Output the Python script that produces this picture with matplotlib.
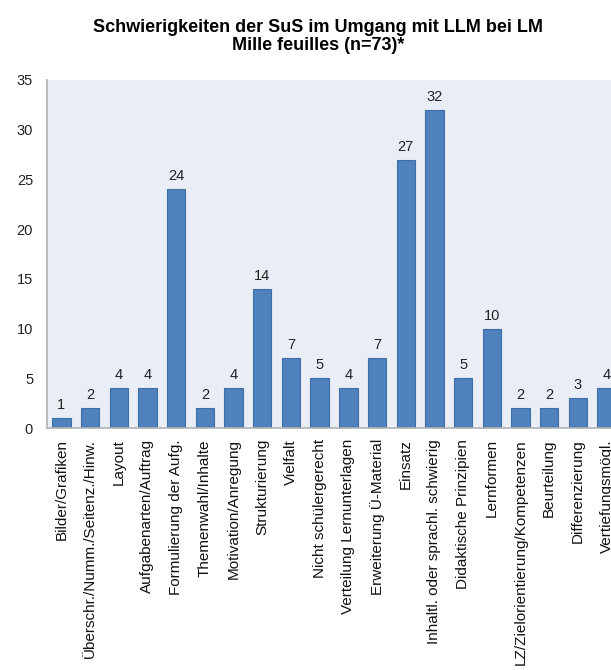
import matplotlib
matplotlib.use("Agg")
import matplotlib.pyplot as plt

# Data
categories = [
    "Bilder/Grafiken",
    "Überschr./Numm./Seitenz./Hinw.",
    "Layout",
    "Aufgabenarten/Auftrag",
    "Formulierung der Aufg.",
    "Themenwahl/Inhalte",
    "Motivation/Anregung",
    "Strukturierung",
    "Vielfalt",
    "Nicht schülergerecht",
    "Verteilung Lernunterlagen",
    "Erweiterung Ü-Material",
    "Einsatz",
    "Inhaltl. oder sprachl. schwierig",
    "Didaktische Prinzipien",
    "Lernformen",
    "LZ/Zielorientierung/Kompetenzen",
    "Beurteilung",
    "Differenzierung",
    "Vertiefungsmögl.",
]
counts = [1, 2, 4, 4, 24, 2, 4, 14, 7, 5, 4, 7, 27, 32, 5, 10, 2, 2, 3, 4]
yticks = [0, 5, 10, 15, 20, 25, 30, 35]

BAR_BLUE = "#4f81bd"
BG = "#e9edf5"

plt.rcParams["font.family"] = ["Liberation Sans", "DejaVu Sans"]

W, H = 611, 670
fig = plt.figure(figsize=(W / 100, H / 100), dpi=100)
fig.patch.set_facecolor("white")

# axes reaches past the right edge, like the cropped original
left = 47 / W
bottom = (H - 428) / H
top = (H - 80) / H
step = 28.7
width = len(categories) * step / W
ax = fig.add_axes([left, bottom, width, top - bottom])
ax.set_facecolor(BG)

x = list(range(len(categories)))
ax.bar(x, counts, width=0.64, color=BAR_BLUE, edgecolor="#3d6ea8", linewidth=0.8)
for xi, v in zip(x, counts):
    ax.text(xi, v + 0.6, str(v), ha="center", va="bottom", fontsize=10.5, color="#222222")

ax.set_xlim(-0.5, len(categories) - 0.5)
ax.set_ylim(0, 35)
ax.set_yticks(yticks)
ax.set_xticks(x)
ax.set_xticklabels(categories, rotation=90, fontsize=11, va="top", ha="center")
ax.tick_params(axis="x", length=0, pad=8, colors="#111111")
ax.tick_params(axis="y", length=0, pad=10, labelsize=10.5, colors="#222222")

for s in ["top", "right"]:
    ax.spines[s].set_visible(False)
for s in ["left", "bottom"]:
    ax.spines[s].set_color("#b0b0b0")
    ax.spines[s].set_linewidth(1.2)

fig.text(318 / W, 1 - 27 / H, "Schwierigkeiten der SuS im Umgang mit LLM bei LM",
         ha="center", va="center", fontsize=13, fontweight="bold")
fig.text(318 / W, 1 - 46 / H, "Mille feuilles (n=73)*",
         ha="center", va="center", fontsize=13, fontweight="bold")

fig.savefig("out.png", dpi=100)
